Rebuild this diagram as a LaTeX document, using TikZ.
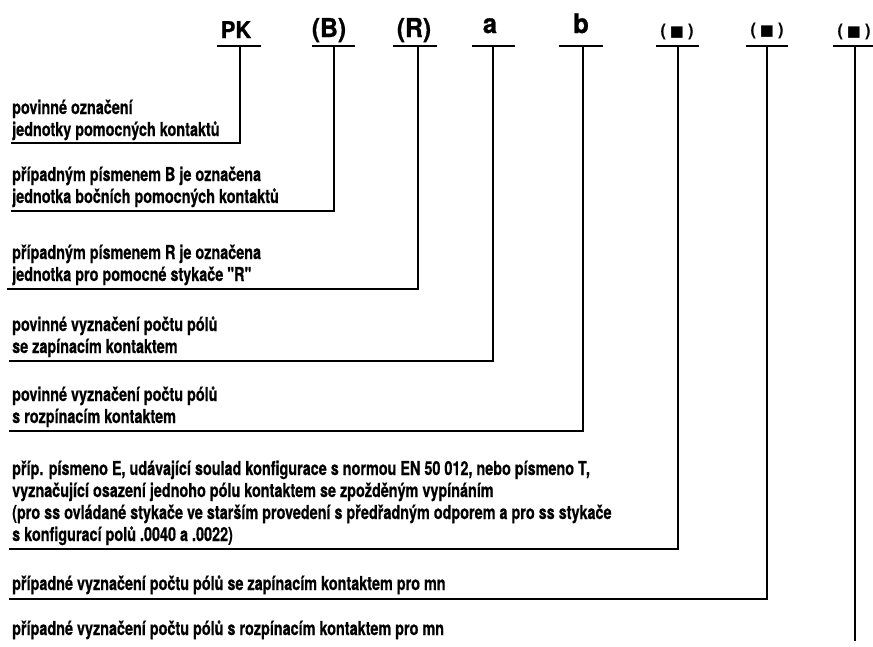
\documentclass[tikz,border=0pt]{standalone}
\usepackage{fontspec}
\setmainfont{TeX Gyre Heros}
\newfontfamily\bodyfont{TeX Gyre Heros}[FakeStretch=0.75,FakeBold=0.6]
\newfontfamily\hdrfont{TeX Gyre Heros}[FakeStretch=0.95,FakeBold=0.8]
\newfontfamily\symfont{DejaVu Sans}
\newcommand{\plines}[1]{\vtop{\baselineskip=22pt\lineskiplimit=-100pt #1}}
\newcommand{\sq}{{\symfont\fontsize{15}{15}\selectfont ■}}
\begin{document}
\begin{tikzpicture}[x=1pt,y=-1pt,
  txt/.style={inner sep=0pt,anchor=base west,font=\bodyfont\bfseries\fontsize{19.2}{22}\selectfont},
  hdr/.style={inner sep=0pt,anchor=base,font=\hdrfont\bfseries\fontsize{24}{24}\selectfont},
  hsm/.style={inner sep=0pt,anchor=base,font=\hdrfont\bfseries\fontsize{17}{17}\selectfont},
  ln/.style={line width=2.7pt,line join=miter,line cap=rect}]
\useasboundingbox (0,0) rectangle (873,646);
% header labels
\node[hdr,font=\hdrfont\bfseries\fontsize{23}{23}\selectfont] (pk) at (236,38) {PK};
\node[hdr,font=\hdrfont\bfseries\fontsize{26}{26}\selectfont] (hb) at (329,37) {(B)};
\node[hdr,font=\hdrfont\bfseries\fontsize{26}{26}\selectfont] (hr) at (414,37) {(R)};
\node[hdr,font=\hdrfont\bfseries\fontsize{27}{27}\selectfont] (ha) at (490,33) {a};
\node[hdr,font=\hdrfont\bfseries\fontsize{27}{27}\selectfont] (hbb) at (581,33) {b};
\node[hsm] (h6) at (677,36) {(\hspace{4pt}\sq\hspace{4pt})};
\node[hsm] (h7) at (767,35) {(\hspace{4pt}\sq\hspace{4pt})};
\node[hsm] (h8) at (854,36) {(\hspace{4pt}\sq\hspace{4pt})};
% bars
\foreach \n/\l/\r/\m in {1/218/260/240, 2/313/354/334, 3/394/436/418, 4/473/514/493, 5/560/602/583, 6/657/698/678, 7/747/787/767, 8/834/873/855}{
  \coordinate (bl\n) at (\l,46);
  \coordinate (br\n) at (\r,46);
  \coordinate (bm\n) at (\m,46);
  \draw[ln] (bl\n) -- (br\n);
}
% corners / left ends
\coordinate (e1) at (12,143);
\coordinate (e2) at (12,211);
\coordinate (e3) at (8,289);
\coordinate (e4) at (10,361);
\coordinate (e5) at (10,431);
\coordinate (e6) at (10,549);
\coordinate (e7) at (10,599);
\coordinate (e8) at (855,640);
\foreach \n in {1,...,7}{ \draw[ln] (bm\n) |- (e\n); }
\draw[ln] (bm8) -- (e8);
% texts
\node[txt] (t1) at (12,114) {\plines{\hbox{povinné označení}\hbox{jednotky pomocných kontaktů}}};
\node[txt] (t2) at (12,181) {\plines{\hbox{případným písmenem B je označena}\hbox{jednotka bočních pomocných kontaktů}}};
\node[txt] (t3) at (12,259) {\plines{\hbox{případným písmenem R je označena}\hbox{jednotka pro pomocné stykače "R"}}};
\node[txt] (t4) at (12,331) {\plines{\hbox{povinné vyznačení počtu pólů}\hbox{se zapínacím kontaktem}}};
\node[txt] (t5) at (12,401) {\plines{\hbox{povinné vyznačení počtu pólů}\hbox{s rozpínacím kontaktem}}};
\node[txt] (t6) at (12,475) {\plines{\hbox{příp. písmeno E, udávající soulad konfigurace s normou EN 50 012, nebo písmeno T,}\hbox{vyznačující osazení jednoho pólu kontaktem se zpožděným vypínáním}\hbox{(pro ss ovládané stykače ve starším provedení s předřadným odporem a pro ss stykače}\hbox{s konfigurací polů .0040 a .0022)}}};
\node[txt] (t7) at (12,590) {případné vyznačení počtu pólů se zapínacím kontaktem pro mn};
\node[txt] (t8) at (12,635) {případné vyznačení počtu pólů s rozpínacím kontaktem pro mn};
\end{tikzpicture}
\end{document}
